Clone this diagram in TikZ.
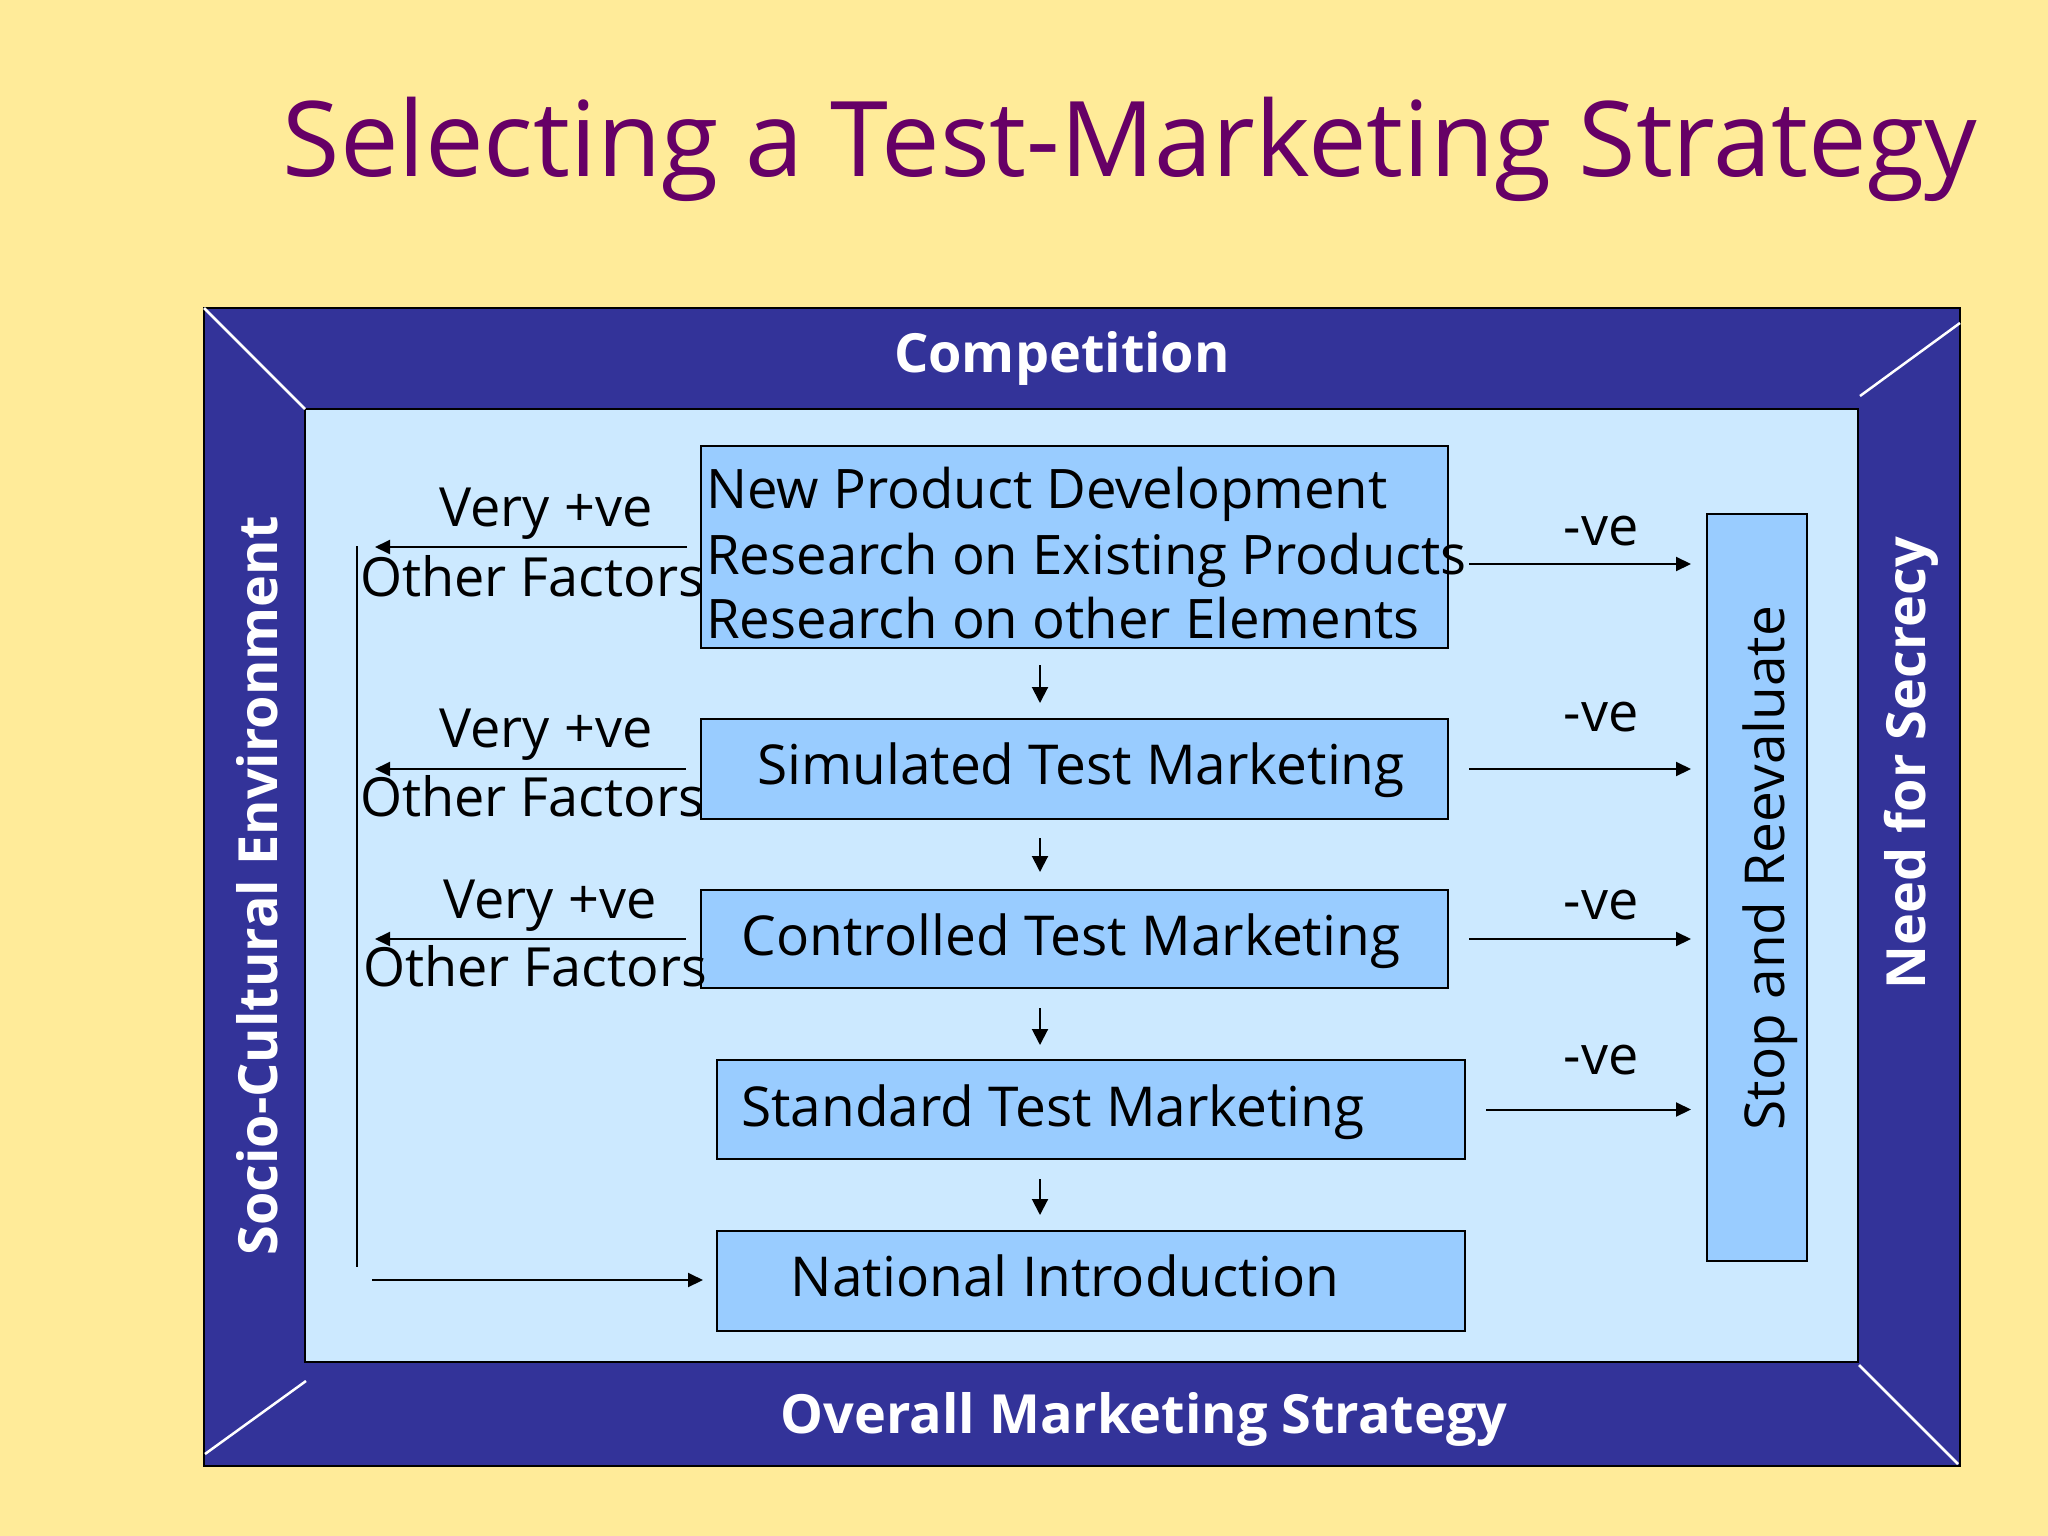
\documentclass[tikz,border=0pt]{standalone}
\usepackage{fontspec}
\setmainfont{Open Sans}
\usetikzlibrary{arrows.meta,calc}
\definecolor{bg}{HTML}{FFEB99}
\definecolor{frame}{HTML}{333399}
\definecolor{inner}{HTML}{CCE9FF}
\definecolor{boxc}{HTML}{99CCFF}
\definecolor{titlec}{HTML}{660066}
\tikzset{
  stagebox/.style={draw=black,line width=2pt,fill=boxc,inner sep=0pt,anchor=north west},
  body/.style={inner sep=0pt,font=\fontsize{54}{64}\selectfont,text=black},
  boxtext/.style={inner sep=0pt,font=\fontsize{55}{64}\selectfont,text=black},
  npdtext/.style={inner sep=0pt,font=\fontsize{54.5}{64}\selectfont,text=black},
  framelbl/.style={inner sep=0pt,font=\fontsize{54}{64}\selectfont\bfseries,text=white},
  conn/.style={line width=2pt,-{Triangle[length=15pt,width=14pt]}},
  downarr/.style={line width=2pt,-{Triangle[length=16pt,width=16pt]}},
  diag/.style={white,line width=2.5pt}
}
\begin{document}
\begin{tikzpicture}[x=1pt,y=-1pt]
\fill[bg] (0,0) rectangle (2048,1536);
\useasboundingbox (0,0) rectangle (2048,1536);
% title
\node[anchor=base,inner sep=0pt,text=titlec,font=\fontsize{104.5}{120}\selectfont] (title) at (1130,176) {Selecting a Test-Marketing Strategy};
% frame
\draw[fill=frame,line width=2.5pt] (204,308) rectangle (1960,1466);
\draw[fill=inner,line width=2.5pt] (305,409) rectangle (1858,1362);
\draw[diag] (204,308) -- (305,409);
\draw[diag] (1960,323) -- (1860,396);
\draw[diag] (205,1454) -- (306,1381);
\draw[diag] (1859,1365) -- (1958,1464);
% frame labels
\node[framelbl,anchor=base] (comp) at (1062,372) {Competition};
\node[framelbl,anchor=base] (oms) at (1144,1433) {Overall Marketing Strategy};
\node[framelbl,anchor=base,rotate=90] (sce) at (277,886) {Socio-Cultural Environment};
\node[framelbl,anchor=base,rotate=90] (nfs) at (1925,763) {Need for Secrecy};
% stage boxes
\node[stagebox,minimum width=747pt,minimum height=202pt] (npd) at (700,445) {};
\node[stagebox,minimum width=747pt,minimum height=100pt] (sim) at (700,718) {};
\node[stagebox,minimum width=747pt,minimum height=98pt] (ctm) at (700,889) {};
\node[stagebox,minimum width=748pt,minimum height=99pt] (stm) at (716,1059) {};
\node[stagebox,minimum width=748pt,minimum height=100pt] (nat) at (716,1230) {};
\node[stagebox,minimum width=100pt,minimum height=747pt] (sr) at (1706,513) {};
% box texts
\node[npdtext,anchor=base west] (t1) at (706,508) {New Product Development};
\node[npdtext,anchor=base west] (t2) at (706,574) {Research on Existing Products};
\node[npdtext,anchor=base west] (t3) at (706,638) {Research on other Elements};
\node[boxtext,anchor=base] (tsim) at (1081,784) {Simulated Test Marketing};
\node[boxtext,anchor=base] (tctm) at (1071,955) {Controlled Test Marketing};
\node[boxtext,anchor=base west] (tstm) at (741,1126) {Standard Test Marketing};
\node[boxtext,anchor=base] (tnat) at (1065,1296) {National Introduction};
\node[boxtext,anchor=base,rotate=90] (tsr) at (1784,868) {Stop and Reevaluate};
% down arrows
\coordinate (dx) at (1040,0);
\draw[downarr,shorten <=16pt,shorten >=15pt] (npd.south -| dx) -- (sim.north -| dx);
\draw[downarr,shorten <=18pt,shorten >=17pt] (sim.south -| dx) -- (ctm.north -| dx);
\draw[downarr,shorten <=19pt,shorten >=14pt] (ctm.south -| dx) -- (stm.north -| dx);
\draw[downarr,shorten <=19pt,shorten >=15pt] (stm.south -| dx) -- (nat.north -| dx);
% -ve arrows
\draw[conn,shorten <=20pt,shorten >=15pt] ([yshift=-17pt]npd.east) -- ([yshift=-17pt]npd.east -| sr.west);
\draw[conn,shorten <=20pt,shorten >=15pt] (sim.east) -- (sim.east -| sr.west);
\draw[conn,shorten <=20pt,shorten >=15pt] (ctm.east) -- (ctm.east -| sr.west);
\draw[conn,shorten <=20pt,shorten >=15pt] (stm.east) -- (stm.east -| sr.west);
\node[body,anchor=base] (n1) at (1601,545) {-ve};
\node[body,anchor=base] (n2) at (1601,731) {-ve};
\node[body,anchor=base] (n3) at (1601,919) {-ve};
\node[body,anchor=base] (n4) at (1601,1074) {-ve};
% very +ve arrows
\coordinate (lx) at (375,0);
\draw[conn,shorten <=13pt] (npd.west) -- (npd.west -| lx);
\draw[conn,shorten <=14pt] (sim.west) -- (sim.west -| lx);
\draw[conn,shorten <=14pt] (ctm.west) -- (ctm.west -| lx);
\node[body,anchor=base] (p1) at (546,526) {Very +ve};
\node[body,anchor=base west] (o1) at (360,596) {Other Factors};
\node[body,anchor=base] (p2) at (546,747) {Very +ve};
\node[body,anchor=base west] (o2) at (360,816) {Other Factors};
\node[body,anchor=base] (p3) at (550,918) {Very +ve};
\node[body,anchor=base west] (o3) at (363,986) {Other Factors};
% left bus
\coordinate (vtop) at (357,546);
\coordinate (vbot) at (357,1267);
\draw[line width=2pt] (vtop) -- (vbot);
\coordinate (bstart) at (372,1280);
\draw[conn,shorten >=13pt] (bstart) -- (bstart -| nat.west);
\end{tikzpicture}
\end{document}
